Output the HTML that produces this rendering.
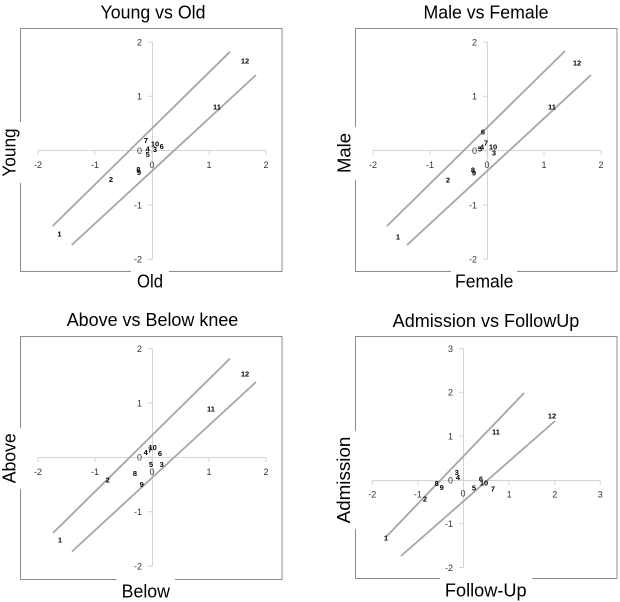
<!DOCTYPE html>
<html><head><meta charset="utf-8"><style>
html,body{margin:0;padding:0;background:#fff;}
svg{display:block;}
.t{font-family:"Liberation Sans",sans-serif;font-size:18px;fill:#000;text-anchor:middle;}
.a{font-family:"Liberation Sans",sans-serif;font-size:18px;fill:#000;text-anchor:middle;}
.tk{font-family:"Liberation Sans",sans-serif;font-size:9px;fill:#333;}
.ty{text-anchor:end;}
.tx{text-anchor:middle;}
.d{font-family:"Liberation Sans",sans-serif;font-size:7.5px;font-weight:bold;fill:#000;text-anchor:middle;}
.box{fill:none;stroke:#8c8c8c;stroke-width:1;}
.ax{stroke:#d4d4d4;stroke-width:1;fill:none;}
.ln{stroke:#a6a6a6;stroke-width:1.8;fill:none;}
</style></head><body>
<svg width="620" height="602" viewBox="0 0 620 602" xmlns="http://www.w3.org/2000/svg">
<rect x="0" y="0" width="620" height="602" fill="#fff"/>

<!-- Panel 1 -->
<text class="t" x="153" y="18.5" textLength="105" lengthAdjust="spacingAndGlyphs">Young vs Old</text>
<rect class="box" x="20.5" y="28.5" width="261.5" height="243"/>
<path class="ax" d="M152.5 42 V259.3 M148 42 H152.5 M148 96.3 H152.5 M148 150.7 H152.5 M148 205 H152.5 M148 259.3 H152.5"/>
<path class="ax" d="M38 150.5 H266 M38 150.5 V155 M95 150.5 V155 M152 150.5 V155 M209 150.5 V155 M266 150.5 V155"/>
<g class="tk ty">
<text x="142" y="45.4">2</text><text x="142" y="99.7">1</text><text x="142" y="154.1">0</text><text x="142" y="208.4">-1</text><text x="142" y="262.7">-2</text>
</g>
<g class="tk tx">
<text x="38" y="168">-2</text><text x="95" y="168">-1</text><text x="152" y="168">0</text><text x="209" y="168">1</text><text x="266" y="168">2</text>
</g>
<line class="ln" x1="52.7" y1="226" x2="230" y2="51.7"/>
<line class="ln" x1="71.7" y1="245" x2="256" y2="75"/>
<g class="d">
<text x="59.5" y="236.5">1</text><text x="111" y="181.8">2</text><text x="155" y="151.8">3</text><text x="147.7" y="151.5">4</text><text x="147.7" y="156.8">5</text><text x="161.7" y="149.2">6</text><text x="146" y="143.2">7</text><text x="138.3" y="171.8">8</text><text x="139" y="174.8">9</text><text x="155" y="146.5">10</text><text x="217" y="109.5">11</text><text x="245" y="63.5">12</text>
</g>
<rect x="16" y="122" width="8" height="61" fill="#fff"/>
<text class="a" transform="translate(15.5,152.5) rotate(-90)" textLength="48.3" lengthAdjust="spacingAndGlyphs">Young</text>
<rect x="131" y="268" width="38" height="8" fill="#fff"/>
<text class="a" x="150" y="287.3" textLength="26" lengthAdjust="spacingAndGlyphs">Old</text>

<!-- Panel 2 -->
<text class="t" x="486" y="18.5" textLength="125" lengthAdjust="spacingAndGlyphs">Male vs Female</text>
<rect class="box" x="355.5" y="28.5" width="261.5" height="243"/>
<path class="ax" d="M487.5 42 V259.3 M483 42 H487.5 M483 96.3 H487.5 M483 150.7 H487.5 M483 205 H487.5 M483 259.3 H487.5"/>
<path class="ax" d="M373 150.5 H601 M373 150.5 V155 M430 150.5 V155 M487 150.5 V155 M544 150.5 V155 M601 150.5 V155"/>
<g class="tk ty">
<text x="477" y="45.4">2</text><text x="477" y="99.7">1</text><text x="477" y="154.1">0</text><text x="477" y="208.4">-1</text><text x="477" y="262.7">-2</text>
</g>
<g class="tk tx">
<text x="373" y="168">-2</text><text x="430" y="168">-1</text><text x="487" y="168">0</text><text x="544" y="168">1</text><text x="601" y="168">2</text>
</g>
<line class="ln" x1="387" y1="226" x2="565" y2="51"/>
<line class="ln" x1="407" y1="245" x2="591" y2="75"/>
<g class="d">
<text x="398" y="239.5">1</text><text x="448" y="182.5">2</text><text x="494" y="155.5">3</text><text x="482" y="149.5">4</text><text x="480" y="151.5">5</text><text x="483" y="134.5">6</text><text x="486" y="145.5">7</text><text x="473" y="172.5">8</text><text x="474" y="175.5">9</text><text x="493" y="149.5">10</text><text x="552" y="109.5">11</text><text x="577" y="65.5">12</text>
</g>
<rect x="351" y="127" width="8" height="53" fill="#fff"/>
<text class="a" transform="translate(350.5,153) rotate(-90)" textLength="40" lengthAdjust="spacingAndGlyphs">Male</text>
<rect x="451" y="268" width="66" height="8" fill="#fff"/>
<text class="a" x="484.2" y="287.3" textLength="58.3" lengthAdjust="spacingAndGlyphs">Female</text>

<!-- Panel 3 -->
<text class="t" x="152.5" y="326" textLength="171.6" lengthAdjust="spacingAndGlyphs">Above vs Below knee</text>
<rect class="box" x="20.5" y="336.5" width="261.5" height="243"/>
<path class="ax" d="M152.5 348.5 V566.1 M148 348.5 H152.5 M148 402.9 H152.5 M148 457.3 H152.5 M148 511.7 H152.5 M148 566.1 H152.5"/>
<path class="ax" d="M38 457.5 H266 M38 457.5 V462 M95 457.5 V462 M152 457.5 V462 M209 457.5 V462 M266 457.5 V462"/>
<g class="tk ty">
<text x="142" y="351.9">2</text><text x="142" y="406.3">1</text><text x="142" y="460.7">0</text><text x="142" y="515.1">-1</text><text x="142" y="569.5">-2</text>
</g>
<g class="tk tx">
<text x="38" y="475">-2</text><text x="95" y="475">-1</text><text x="152" y="475">0</text><text x="209" y="475">1</text><text x="266" y="475">2</text>
</g>
<line class="ln" x1="53" y1="533" x2="230" y2="358.5"/>
<line class="ln" x1="72" y1="551.5" x2="256" y2="382"/>
<g class="d">
<text x="60" y="542.5">1</text><text x="107.7" y="482.5">2</text><text x="161.7" y="466.8">3</text><text x="145.7" y="455.2">4</text><text x="151" y="466.8">5</text><text x="160" y="455.8">6</text><text x="150" y="452.5">7</text><text x="135" y="475.8">8</text><text x="141.7" y="486.8">9</text><text x="152.7" y="449.8">10</text><text x="211" y="411.5">11</text><text x="245" y="376.5">12</text>
</g>
<rect x="16" y="428" width="8" height="61" fill="#fff"/>
<text class="a" transform="translate(15.5,458.3) rotate(-90)" textLength="50" lengthAdjust="spacingAndGlyphs">Above</text>
<rect x="116.7" y="576" width="58.3" height="8" fill="#fff"/>
<text class="a" x="145.8" y="597.3" textLength="48.3" lengthAdjust="spacingAndGlyphs">Below</text>

<!-- Panel 4 -->
<text class="t" x="486" y="327" textLength="186.7" lengthAdjust="spacingAndGlyphs">Admission vs FollowUp</text>
<rect class="box" x="355.5" y="336.5" width="261.5" height="242"/>
<path class="ax" d="M463.5 348.5 V567.5 M459 348.5 H463.5 M459 392.3 H463.5 M459 436.1 H463.5 M459 479.9 H463.5 M459 523.7 H463.5 M459 567.5 H463.5"/>
<path class="ax" d="M372.3 480.5 H600.3 M372.3 480.5 V485 M417.9 480.5 V485 M463.5 480.5 V485 M509.1 480.5 V485 M554.7 480.5 V485 M600.3 480.5 V485"/>
<g class="tk ty">
<text x="453" y="351.9">3</text><text x="453" y="395.7">2</text><text x="453" y="439.5">1</text><text x="453" y="483.3">0</text><text x="453" y="527.1">-1</text><text x="453" y="570.9">-2</text>
</g>
<g class="tk tx">
<text x="372.3" y="497.5">-2</text><text x="417.9" y="497.5">-1</text><text x="463" y="496.5">0</text><text x="509.1" y="497.5">1</text><text x="554.7" y="497.5">2</text><text x="600.3" y="497.5">3</text>
</g>
<line class="ln" x1="386" y1="537" x2="524" y2="393"/>
<line class="ln" x1="401" y1="556" x2="555" y2="421"/>
<g class="d">
<text x="386" y="540.5">1</text><text x="425" y="501.5">2</text><text x="456.7" y="475.2">3</text><text x="458" y="480.2">4</text><text x="474" y="490.5">5</text><text x="481" y="481.5">6</text><text x="493" y="491.5">7</text><text x="436.7" y="485.8">8</text><text x="441.7" y="490.2">9</text><text x="484" y="485.5">10</text><text x="496" y="434.5">11</text><text x="552" y="418.5">12</text>
</g>
<rect x="351" y="431" width="8" height="98" fill="#fff"/>
<text class="a" transform="translate(350,480) rotate(-90)" textLength="86.7" lengthAdjust="spacingAndGlyphs">Admission</text>
<rect x="440" y="575" width="92" height="8" fill="#fff"/>
<text class="a" x="485.8" y="596.5" textLength="81.7" lengthAdjust="spacingAndGlyphs">Follow-Up</text>
</svg>
</body></html>
